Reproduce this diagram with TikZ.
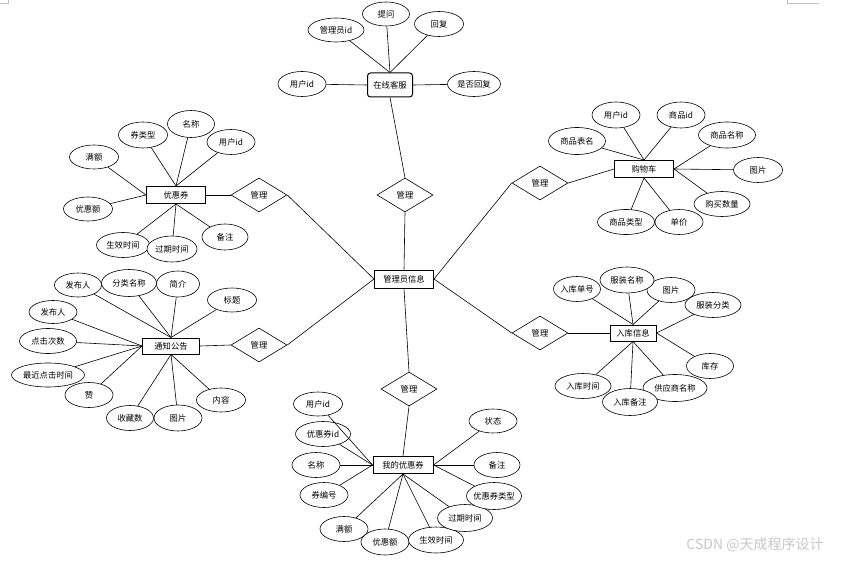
\documentclass[tikz,border=0pt]{standalone}
\usepackage{fontspec}
\newfontfamily\cjk{Noto Sans CJK SC}
\usetikzlibrary{shapes.geometric}
\tikzset{
  every node/.style={font=\cjk\fontsize{8.3}{10}\selectfont},
  attr/.style={ellipse, draw, fill=white, line width=0.6pt, inner sep=0pt},
  ent/.style={rectangle, draw, fill=white, line width=1pt, inner sep=0pt},
  rel/.style={diamond, draw, fill=white, line width=0.6pt, inner sep=0pt, minimum width=56pt, minimum height=34pt},
  conn/.style={line width=0.6pt},
  cornermark/.style={draw=black!25, line width=0.6pt}
}
\newcommand{\attrib}[5]{\node[attr, minimum width=#4pt, minimum height=#5pt] (#1) at (#2) {\makebox[0pt]{#3}};}
\newcommand{\entity}[5]{\node[ent, minimum width=#4pt, minimum height=#5pt] (#1) at (#2) {\makebox[0pt]{#3}};}
\newcommand{\relation}[2]{\node[rel] (#1) at (#2) {\makebox[0pt]{管理}};}
\begin{document}
\begin{tikzpicture}[x=1pt,y=-1pt]
\useasboundingbox (0,0) rectangle (842,561);
% page corner marks
\coordinate (tl1) at (0,3); \coordinate (tl2) at (8,3); \coordinate (tl3) at (8,0);
\draw[cornermark] (tl1) -- (tl2) -- (tl3);
\coordinate (tr1) at (787,0); \coordinate (tr2) at (787,3); \coordinate (tr3) at (819,3);
\draw[cornermark] (tr1) -- (tr2) -- (tr3);

% ---------- central entity and relations
\entity{adm}{404,279}{管理员信息}{59}{18}
\relation{r1}{405,195}
\relation{r2}{259,195}
\relation{r3}{259,345}
\relation{r4}{540,183}
\relation{r5}{540,333}
\relation{r6}{409,389}

% ---------- online customer service
\node[ent, rounded corners=3pt, minimum width=45pt, minimum height=24pt] (kf) at (390,85) {\makebox[0pt]{在线客服}};
\attrib{kf1}{336,30}{管理员id}{56}{24}
\attrib{kf2}{386,14}{提问}{47}{24}
\attrib{kf3}{439,24}{回复}{49}{25}
\attrib{kf4}{302,84}{用户id}{48}{25}
\attrib{kf5}{474,84}{是否回复}{53}{25}

% ---------- coupon
\entity{cp}{176,195}{优惠券}{59}{17}
\attrib{c1}{191,124}{名称}{47}{27}
\attrib{c2}{143,135}{券类型}{49}{26}
\attrib{c3}{231,142}{用户id}{48}{25}
\attrib{c4}{94,157}{满额}{49}{24}
\attrib{c5}{88,209}{优惠额}{49}{24}
\attrib{c6}{123,245}{生效时间}{53}{25}
\attrib{c7}{172,249}{过期时间}{50}{26}
\attrib{c8}{225,237}{备注}{46}{26}

% ---------- notice
\entity{nt}{171,346}{通知公告}{57}{16}
\attrib{n1}{78,285}{发布人}{47}{24}
\attrib{n3}{178,284}{简介}{43}{26}
\attrib{n2}{129,283}{分类名称}{55}{27}
\attrib{n4}{232,300}{标题}{49}{24}
\attrib{n5}{53,312}{发布人}{48}{23}
\attrib{n6}{48,341}{点击次数}{57}{25}
\attrib{n8}{89,395}{赞}{48}{25}
\attrib{n7}{48,375}{最近点击时间}{73}{24}
\attrib{n9}{130,418}{收藏数}{47}{25}
\attrib{n10}{178,418}{图片}{48}{26}
\attrib{n11}{221,400}{内容}{49}{24}

% ---------- shopping cart
\entity{sc}{644,169}{购物车}{59}{17}
\attrib{s1}{616,115}{用户id}{48}{26}
\attrib{s2}{681,115}{商品id}{48}{26}
\attrib{s3}{577,141}{商品表名}{57}{27}
\attrib{s4}{727,135}{商品名称}{57}{26}
\attrib{s5}{758,170}{图片}{49}{25}
\attrib{s6}{722,204}{购买数量}{56}{25}
\attrib{s7}{626,222}{商品类型}{57}{25}
\attrib{s8}{679,222}{单价}{48}{25}

% ---------- stock-in
\entity{rk}{633,333}{入库信息}{46}{16}
\attrib{k1}{577,289}{入库单号}{47}{25}
\attrib{k3}{671,290}{图片}{48}{25}
\attrib{k2}{627,280}{服装名称}{54}{26}
\attrib{k4}{713,305}{服装分类}{56}{25}
\attrib{k5}{710,366}{库存}{47}{25}
\attrib{k6}{675,388}{供应商名称}{64}{27}
\attrib{k8}{583,386}{入库时间}{56}{25}
\attrib{k7}{630,402}{入库备注}{55}{27}

% ---------- my coupon
\entity{mc}{403,465}{我的优惠券}{60}{17}
\attrib{m1}{318,404}{用户id}{49}{24}
\attrib{m2}{323,434}{优惠券id}{55}{25}
\attrib{m3}{316,465}{名称}{48}{25}
\attrib{m4}{324,495}{券编号}{48}{25}
\attrib{m5}{344,529}{满额}{48}{25}
\attrib{m6}{385,542}{优惠额}{48}{26}
\attrib{m7}{436,540}{生效时间}{55}{26}
\attrib{m8}{465,518}{过期时间}{55}{27}
\attrib{m9}{494,496}{优惠券类型}{55}{27}
\attrib{m10}{497,465}{备注}{46}{25}
\attrib{m11}{493,421}{状态}{48}{24}

% ---------- connectors
\draw[conn] (kf.north) -- (kf1);
\draw[conn] (kf.north) -- (kf2);
\draw[conn] (kf.north) -- (kf3);
\draw[conn] (kf.west) -- (kf4);
\draw[conn] (kf.east) -- (kf5);
\draw[conn] (kf.south) -- (r1.north);
\draw[conn] (r1.south) -- (adm.north);
\draw[conn] (r2.east) -- (adm.west);
\draw[conn] (r3.east) -- (adm.west);
\draw[conn] (r4.west) -- (adm.east);
\draw[conn] (r5.west) -- (adm.east);
\draw[conn] (adm.south) -- (r6.north);

\draw[conn] (cp.east) -- (r2.west);
\draw[conn] (cp.north) -- (c1);
\draw[conn] (cp.north) -- (c2);
\draw[conn] (cp.north) -- (c3);
\draw[conn] (cp.west) -- (c4);
\draw[conn] (cp.west) -- (c5);
\draw[conn] (cp.south) -- (c6);
\draw[conn] (cp.south) -- (c7);
\draw[conn] (cp.south) -- (c8);

\draw[conn] (nt.east) -- (r3.west);
\draw[conn] (nt.north) -- (n1);
\draw[conn] (nt.north) -- (n2);
\draw[conn] (nt.north) -- (n3);
\draw[conn] (nt.north) -- (n4);
\draw[conn] (nt.west) -- (n5);
\draw[conn] (nt.west) -- (n6);
\draw[conn] (nt.west) -- (n7);
\draw[conn] (nt.west) -- (n8);
\draw[conn] (nt.south) -- (n9);
\draw[conn] (nt.south) -- (n10);
\draw[conn] (nt.south) -- (n11);

\draw[conn] (r4.east) -- (sc.west);
\draw[conn] (sc.north) -- (s1);
\draw[conn] (sc.north) -- (s2);
\draw[conn] (sc.north) -- (s3);
\draw[conn] (sc.east) -- (s4);
\draw[conn] (sc.east) -- (s5);
\draw[conn] (sc.east) -- (s6);
\draw[conn] (sc.south) -- (s7);
\draw[conn] (sc.south) -- (s8);

\draw[conn] (r5.east) -- (rk.west);
\draw[conn] (rk.north) -- (k1);
\draw[conn] (rk.north) -- (k2);
\draw[conn] (rk.north) -- (k3);
\draw[conn] (rk.east) -- (k4);
\draw[conn] (rk.east) -- (k5);
\draw[conn] (rk.south) -- (k6);
\draw[conn] (rk.south) -- (k7);
\draw[conn] (rk.south) -- (k8);

\draw[conn] (mc.north) -- (r6.south);
\draw[conn] (mc.west) -- (m1);
\draw[conn] (mc.west) -- (m2);
\draw[conn] (mc.west) -- (m3);
\draw[conn] (mc.west) -- (m4);
\draw[conn] (mc.south) -- (m5);
\draw[conn] (mc.south) -- (m6);
\draw[conn] (mc.south) -- (m7);
\draw[conn] (mc.south) -- (m8);
\draw[conn] (mc.east) -- (m9);
\draw[conn] (mc.east) -- (m10);
\draw[conn] (mc.east) -- (m11);

% watermark
\node[font=\cjk\fontsize{14}{16}\selectfont, text=black!22] (wm) at (755,545) {CSDN @天成程序设计};
\end{tikzpicture}
\end{document}
